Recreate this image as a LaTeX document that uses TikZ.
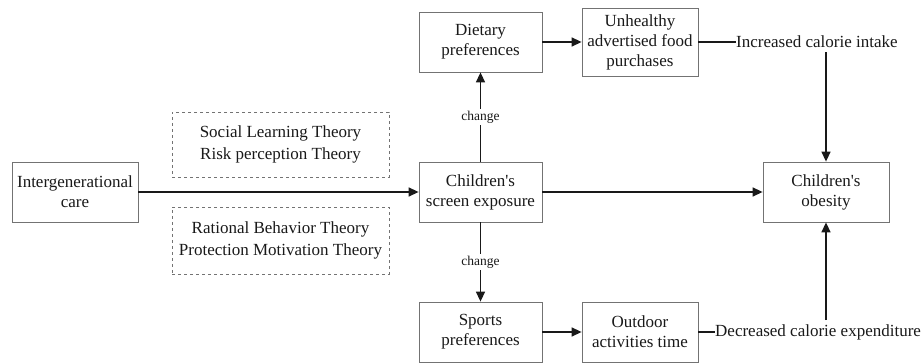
\documentclass[tikz,border=0pt]{standalone}
\usepackage{fontspec}
\setmainfont{Liberation Serif}
\usetikzlibrary{arrows.meta}
\begin{document}
\begin{tikzpicture}[x=1pt,y=-1pt,
  box/.style={draw=black!55, line width=0.8pt, fill=white, align=center, inner sep=0pt, font=\fontsize{17}{20}\selectfont, text=black!90},
  theory/.style={draw=black!55, dashed, line width=0.7pt, align=center, inner sep=0pt, font=\fontsize{17}{21.5}\selectfont, text=black!90},
  arr/.style={line width=1.4pt, draw=black!90, -{Triangle[length=10pt,width=9pt]}},
  ln/.style={line width=1.4pt, draw=black!90},
  lbl/.style={font=\fontsize{13.5}{16}\selectfont, fill=white, inner sep=1.5pt, text=black!90},
  plain/.style={font=\fontsize{17}{20}\selectfont, inner xsep=0pt, inner ysep=4pt, text=black!90}]
\useasboundingbox (0,0) rectangle (922,363);

\node[box, minimum width=126pt, minimum height=60pt] (ic) at (75,192) {Intergenerational\\care};
\node[box, minimum width=123pt, minimum height=60pt] (cse) at (480.5,192) {Children\textquotesingle s\\screen exposure};
\node[box, minimum width=126pt, minimum height=60pt] (ob) at (826,192) {Children\textquotesingle s\\obesity};
\node[box, minimum width=123pt, minimum height=60pt] (dp) at (480.5,42) {Dietary\\preferences};
\node[box, minimum width=116pt, minimum height=68pt] (uh) at (640,42) {Unhealthy\\advertised food\\purchases};
\node[box, minimum width=123pt, minimum height=60pt] (sp) at (480.5,332) {Sports\\preferences};
\node[box, minimum width=116pt, minimum height=60pt] (oa) at (640,332) {Outdoor\\activities time};

\node[theory, minimum width=217pt, minimum height=65pt] (t1) at (280.5,144.5) {Social Learning Theory\\Risk perception Theory};
\node[theory, minimum width=217pt, minimum height=67pt] (t2) at (280.5,240.5) {Rational Behavior Theory\\Protection Motivation Theory};

\node[plain, anchor=west] (inc) at (736,42) {Increased calorie intake};
\node[plain, anchor=west] (dec) at (715,332) {Decreased calorie expenditure};

\draw[arr] (ic) -- (cse);
\draw[arr] (cse) -- (ob);
\draw[arr] (cse) -- node[lbl] {change} (dp);
\draw[arr] (cse) -- node[lbl] {change} (sp);
\draw[arr] (dp) -- (uh);
\draw[arr] (sp) -- (oa);
\draw[ln] (uh.east) -- (inc.west);
\draw[ln] (oa.east) -- (dec.west);
\draw[arr] (inc.south -| ob.north) -- (ob.north);
\draw[arr] (dec.north -| ob.south) -- (ob.south);
\end{tikzpicture}
\end{document}
